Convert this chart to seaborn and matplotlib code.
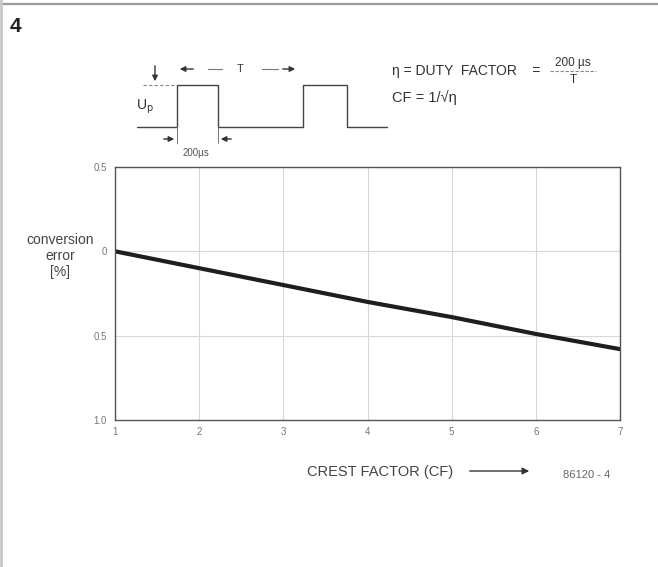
import numpy as np
import pandas as pd
import matplotlib
matplotlib.use("Agg")
import matplotlib.pyplot as plt
import seaborn as sns

# Chart data: conversion error vs crest factor
crest_factor = [1, 2, 3, 4, 5, 6, 7]
conv_error = [0.0, -0.1, -0.2, -0.3, -0.39, -0.49, -0.58]

x_ticks = [1, 2, 3, 4, 5, 6, 7]
y_ticks = [0.5, 0.0, -0.5, -1.0]
y_tick_labels = ["0.5", "0", "0.5", "1.0"]

# Pulse sketch above the chart (figure pixel coordinates)
pulse_x = [137, 177, 177, 218, 218, 303, 303, 347, 347, 387]
pulse_y = [127, 127, 85, 85, 127, 127, 85, 85, 127, 127]

sns.set_theme(style="white")
plt.rcParams["font.family"] = ["Liberation Sans", "DejaVu Sans"]

fig = plt.figure(figsize=(6.58, 5.67), dpi=100)
fig.patch.set_facecolor("white")

# -------------------------------------------------------------------------
# main chart
# -------------------------------------------------------------------------
ax = fig.add_axes([0.1748, 0.2593, 0.7675, 0.4462])
df = pd.DataFrame({"cf": crest_factor, "err": conv_error})
sns.lineplot(data=df, x="cf", y="err", ax=ax, color="#1e1e1e", linewidth=3.0)

ax.set_xlim(1, 7)
ax.set_ylim(-1.0, 0.5)
ax.set_xticks(x_ticks)
ax.set_xticklabels([str(v) for v in x_ticks])
ax.set_yticks(y_ticks)
ax.set_yticklabels(y_tick_labels)
ax.tick_params(axis="both", length=0, labelsize=7, labelcolor="#777777")
ax.tick_params(axis="x", pad=5)
ax.tick_params(axis="y", pad=6)
ax.grid(True, color="#d8d8d8", linewidth=0.8)
for sp in ax.spines.values():
    sp.set_color("#555555")
    sp.set_linewidth(1.0)
ax.set_xlabel("")
ax.set_ylabel("")

# -------------------------------------------------------------------------
# overlay for annotations (pixel coordinates)
# -------------------------------------------------------------------------
ov = fig.add_axes([0, 0, 1, 1], zorder=5)
ov.set_xlim(0, 658)
ov.set_ylim(567, 0)
ov.axis("off")
ov.patch.set_alpha(0)

# scan frame edges
ov.plot([0, 658], [4, 4], color="#9a9a9a", lw=1.6)
ov.plot([1, 1], [0, 567], color="#c8c8c8", lw=2)

ov.text(10, 27, "4", fontsize=15, fontweight="bold", color="#222222",
        ha="left", va="center")

# waveform
ov.plot(pulse_x, pulse_y, color="#444444", lw=1.0)
arrow = dict(arrowstyle="-|>", color="#333333", lw=1.0, mutation_scale=8)
# period arrows
ov.annotate("", xy=(177, 69), xytext=(196, 69), arrowprops=arrow)
ov.plot([208, 222], [69, 69], color="#777777", lw=0.8)
ov.text(240, 69, "T", fontsize=8, color="#333333", ha="center", va="center")
ov.plot([262, 278], [69, 69], color="#777777", lw=0.8)
ov.annotate("", xy=(298, 69), xytext=(280, 69), arrowprops=arrow)
# amplitude marker
ov.annotate("", xy=(155, 84), xytext=(155, 63), arrowprops=arrow)
ov.plot([143, 174], [85, 85], color="#888888", lw=0.8, ls=(0, (3, 2)))
ov.text(136, 107, r"U$_\mathrm{p}$", fontsize=10, color="#333333",
        ha="left", va="center")
# pulse width arrows
ov.plot([177, 177], [127, 143], color="#777777", lw=0.7)
ov.plot([218, 218], [127, 143], color="#777777", lw=0.7)
ov.annotate("", xy=(177, 139), xytext=(161, 139), arrowprops=arrow)
ov.annotate("", xy=(218, 139), xytext=(234, 139), arrowprops=arrow)
ov.text(196, 153, "200µs", fontsize=7, color="#555555", ha="center", va="center")

# duty factor formulas
ov.text(392, 71, "η = DUTY  FACTOR    =", fontsize=10, color="#333333",
        ha="left", va="center")
ov.text(573, 63, "200 µs", fontsize=8.5, color="#333333", ha="center", va="center")
ov.plot([550, 596], [71, 71], color="#888888", lw=0.8, ls=(0, (3, 1.5)))
ov.text(573, 80, "T", fontsize=8.5, color="#333333", ha="center", va="center")
ov.text(392, 97, "CF = 1/√η", fontsize=10.5, color="#333333",
        ha="left", va="center")

# axis labels
ov.text(60, 256, "conversion\nerror\n[%]", fontsize=10, color="#444444",
        ha="center", va="center", linespacing=1.15)
ov.text(307, 472, "CREST FACTOR (CF)", fontsize=10.5, color="#444444",
        ha="left", va="center")
ov.annotate("", xy=(532, 471), xytext=(467, 471),
            arrowprops=dict(arrowstyle="-|>", color="#333333", lw=1.0,
                            mutation_scale=10))
ov.text(563, 475, "86120 - 4", fontsize=8, color="#666666", ha="left", va="center")

plt.savefig("out.png", dpi=100, facecolor="white")
